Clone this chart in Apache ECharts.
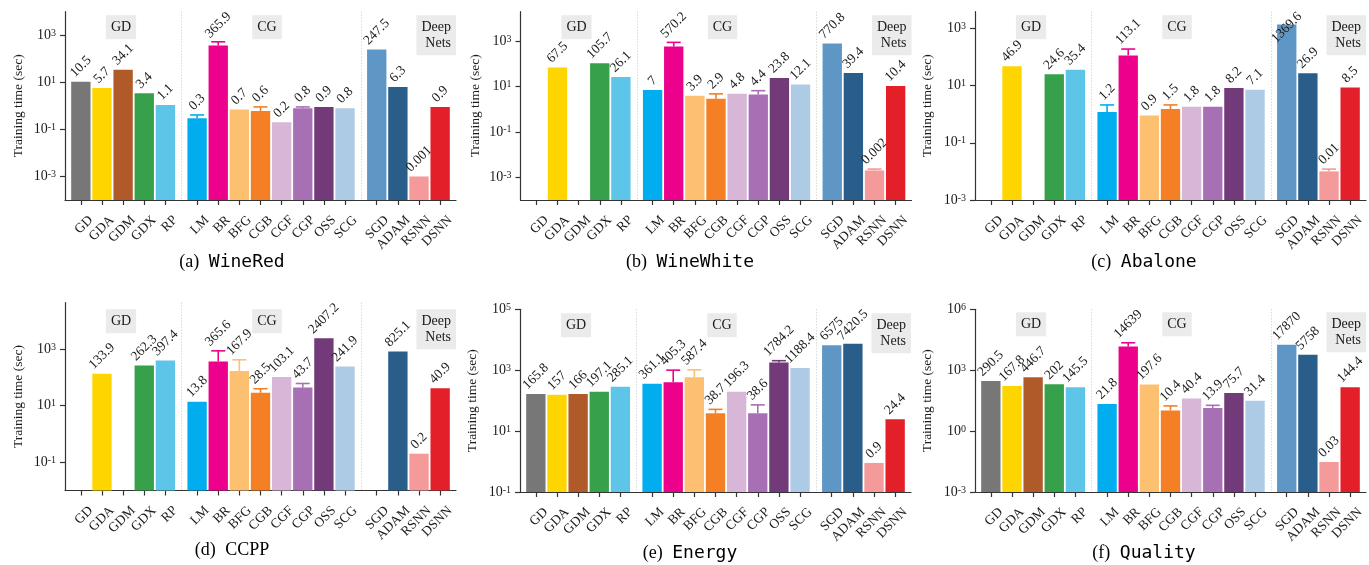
<!DOCTYPE html>
<html><head><meta charset="utf-8">
<script src="https://cdn.jsdelivr.net/npm/echarts@6/dist/echarts.min.js"></script>
<style>html,body{margin:0;padding:0;background:#fff}#c{width:1369px;height:565px}</style>
</head><body><div id="c"></div>
<script>
// ---------------- data ----------------
const categories = ['GD','GDA','GDM','GDX','RP','LM','BR','BFG','CGB','CGF','CGP','OSS','SCG','SGD','ADAM','RSNN','DSNN'];
const categoryGroup = [0,0,0,0,0,1,1,1,1,1,1,1,1,2,2,2,2];
const groupLabels = ['GD','CG','Deep\nNets'];
const panelLetters = ['(a)','(b)','(c)','(d)','(e)','(f)'];
const datasetNames = ['WineRed','WineWhite','Abalone','CCPP','Energy','Quality'];
const yAxisName = 'Training time (sec)';

const wineRedTime   = [10.5,5.7,34.1,3.4,1.1, 0.3,365.9,0.7,0.6,0.2,0.8,0.9,0.8, 247.5,6.3,0.001,0.9];
const wineRedErr    = [0,0,0,0,0, 0.11,160,0,0.3,0,0.1,0,0, 0,0,0,0];
const wineWhiteTime = [null,67.5,null,105.7,26.1, 7,570.2,3.9,2.9,4.8,4.4,23.8,12.1, 770.8,39.4,0.002,10.4];
const wineWhiteErr  = [0,0,0,0,0, 0,300,0,1.8,0,2.1,0,0, 0,0,0.0003,0];
const abaloneTime   = [null,46.9,null,24.6,35.4, 1.2,113.1,0.9,1.5,1.8,1.8,8.2,7.1, 1369.6,26.9,0.01,8.5];
const abaloneErr    = [0,0,0,0,0, 0.9,75,0,0.6,0,0,0,0, 0,0,0.002,0];
const ccppTime      = [null,133.9,null,262.3,397.4, 13.8,365.6,167.9,28.5,103.1,43.7,2407.2,241.9, null,825.1,0.2,40.9];
const ccppErr       = [0,0,0,0,0, 0,500,250,11,0,17,0,0, 0,0,0,0];
const energyTime    = [165.8,157,166,197.1,285.1, 361.1,405.3,587.4,38.7,196.3,38.6,1784.2,1188.4, 6575,7420.5,0.9,24.4];
const energyErr     = [0,0,0,0,0, 0,600,440,13,0,34,270,0, 0,0,0,0];
const qualityTime   = [290.5,167.8,446.7,202,145.5, 21.8,14639,197.6,10.4,40.4,13.9,75.7,31.4, 17870,5758,0.03,144.4];
const qualityErr    = [0,0,0,0,0, 0,7800,0,7,0,4.7,0,0, 0,0,0,0];

const yTicksA = [1e-3,1e-1,1e1,1e3];
const yTicksD = [1e-1,1e1,1e3];
const yTicksE = [1e-1,1e1,1e3,1e5];
const yTicksF = [1e-3,1e0,1e3,1e6];

// ---------------- styles / layout ----------------
const barColors = ['#777777','#FFD500','#B05A2A','#36A04A','#5DC6E8','#00AEEF','#EC008C','#FDBF70',
  '#F47F24','#D8B6D8','#A870B4','#733A7A','#AECBE5','#5E97C6','#295D8A','#F49A9A','#E3202A'];
const SERIF = '"Liberation Serif", "Times New Roman", serif';
const MONO = '"DejaVu Sans Mono", monospace';
const TXT = '#1a1a1a';
const AX = '#333333';

const panels = [
  {time: wineRedTime,   err: wineRedErr,   yMin: 1e-4, yMax: 1e4,     yTicks: yTicksA},
  {time: wineWhiteTime, err: wineWhiteErr, yMin: 1e-4, yMax: 19500,   yTicks: yTicksA},
  {time: abaloneTime,   err: abaloneErr,   yMin: 1e-3, yMax: 3800,    yTicks: yTicksA},
  {time: ccppTime,      err: ccppErr,      yMin: 1e-2, yMax: 43600,   yTicks: yTicksD},
  {time: energyTime,    err: energyErr,    yMin: 1e-1, yMax: 1e5,     yTicks: yTicksE},
  {time: qualityTime,   err: qualityErr,   yMin: 1e-3, yMax: 1e6,     yTicks: yTicksF}
];
const layout = [
  {left: 65,    top: 11.7,  height: 188.3, nameGap: 40, boxDy: 3.5, capX: 232,  capY: 262, capFont: MONO},
  {left: 520.5, top: 11.7,  height: 188.3, nameGap: 38, boxDy: 3.5, capX: 690,  capY: 262, capFont: MONO},
  {left: 975,   top: 11.7,  height: 188.3, nameGap: 41, boxDy: 3.5, capX: 1144, capY: 262, capFont: MONO},
  {left: 65,    top: 302.7, height: 187.8, nameGap: 40, boxDy: 6.5, capX: 232,  capY: 550, capFont: SERIF},
  {left: 520,   top: 309.3, height: 182.7, nameGap: 41, boxDy: 4,   capX: 690,  capY: 553, capFont: MONO},
  {left: 975,   top: 309.3, height: 182.7, nameGap: 41, boxDy: 3,   capX: 1144, capY: 553, capFont: MONO}
];
const GRID_W = 391;
const NSLOTS = 37;            // half-width slots along the x axis
const slotOf = i => 1 + 2 * i + categoryGroup[i];
const slotLabels = [];
for (let s = 0; s < NSLOTS; s++) slotLabels.push('_' + s);
categories.forEach((c, i) => { slotLabels[slotOf(i)] = c; });
const barSlots = new Set(categories.map((c, i) => slotOf(i)));

const mctx = document.createElement('canvas').getContext('2d');
function textWidth(t, size) { mctx.font = size + 'px ' + SERIF; return mctx.measureText(t).width; }

function renderBar(params, api) {
  const slot = api.value(0), v = api.value(1), e = api.value(2), idx = api.value(3);
  const cs = params.coordSys;
  const base = cs.y + cs.height;
  const top = api.coord([slot, v]);
  const bw = api.size([1, 0])[0] * 1.83;
  const color = barColors[idx];
  const children = [{type: 'rect', shape: {x: top[0] - bw / 2, y: top[1], width: bw, height: base - top[1]},
    style: {fill: color}}];
  let yTop = top[1];
  if (e > 0) {
    const eTop = api.coord([slot, v + e])[1];
    children.push({type: 'line', shape: {x1: top[0], y1: top[1], x2: top[0], y2: eTop}, style: {stroke: color, lineWidth: 1.6}});
    children.push({type: 'line', shape: {x1: top[0] - 7, y1: eTop, x2: top[0] + 7, y2: eTop}, style: {stroke: color, lineWidth: 1.6}});
    yTop = eTop;
  }
  const label = String(v);
  const fs = 13.5, c = Math.SQRT1_2;
  const w = textWidth(label, fs), h = fs;
  let bottom = yTop - 2;
  const bboxH = (w + h) * c;
  if (bottom - bboxH < cs.y - 2) bottom = cs.y - 2 + bboxH;
  children.push({type: 'text', x: top[0] - w * c / 2, y: bottom - h / 2 * c, rotation: Math.PI / 4,
    style: {text: label, font: fs + 'px ' + SERIF, fill: TXT, align: 'left', verticalAlign: 'middle'}});
  return {type: 'group', children};
}

function makeDecor(k) {
  return function (params, api) {
    const cs = params.coordSys, L = layout[k];
    const base = cs.y + cs.height;
    const children = [];
    // dotted separators between groups
    for (let i = 1; i < categories.length; i++) {
      if (categoryGroup[i] !== categoryGroup[i - 1]) {
        const x1 = api.coord([slotOf(i - 1), panels[k].yMin])[0];
        const x2 = api.coord([slotOf(i), panels[k].yMin])[0];
        const xm = Math.round((x1 + x2) / 2) + 0.5;
        children.push({type: 'line', shape: {x1: xm, y1: cs.y, x2: xm, y2: base},
          style: {stroke: '#c8c8c8', lineWidth: 1, lineDash: [1, 2]}});
      }
    }
    // group label boxes
    const boxStyle = {font: '14px ' + SERIF, fill: TXT, backgroundColor: '#ebebeb', verticalAlign: 'top', lineHeight: 16};
    children.push({type: 'text', x: cs.x + 56, y: cs.y + L.boxDy,
      style: Object.assign({text: groupLabels[0], align: 'center', padding: [4, 5, 4, 5]}, boxStyle)});
    children.push({type: 'text', x: cs.x + 202, y: cs.y + L.boxDy,
      style: Object.assign({text: groupLabels[1], align: 'center', padding: [4, 5, 4, 5]}, boxStyle)});
    children.push({type: 'text', x: cs.x + cs.width, y: cs.y + L.boxDy,
      style: Object.assign({text: groupLabels[2], align: 'right', padding: [4, 5, 4, 5]}, boxStyle)});
    // rotated category labels
    categories.forEach((name, i) => {
      const p = api.coord([slotOf(i), panels[k].yMin]);
      children.push({type: 'text', x: p[0] + 10, y: base + 18, rotation: Math.PI / 4,
        style: {text: name, font: '13.5px ' + SERIF, fill: TXT, align: 'right', verticalAlign: 'middle'}});
    });
    return {type: 'group', children};
  };
}

const grid = [], xAxis = [], yAxis = [], series = [], graphic = [];
panels.forEach((P, k) => {
  const L = layout[k];
  grid.push({left: L.left, top: L.top, width: GRID_W, height: L.height, containLabel: false, outerBoundsMode: 'none'});
  xAxis.push({type: 'category', gridIndex: k, data: slotLabels, boundaryGap: true,
    axisLine: {show: true, lineStyle: {color: AX, width: 1.2}},
    axisTick: {show: true, alignWithLabel: true, interval: (i) => barSlots.has(i), length: 5, lineStyle: {color: AX, width: 1.2}},
    axisLabel: {show: false}, splitLine: {show: false}});
  yAxis.push({type: 'log', logBase: 10, gridIndex: k, min: P.yMin, max: P.yMax,
    axisLine: {show: true, lineStyle: {color: AX, width: 1.2}},
    axisTick: {show: true, customValues: P.yTicks, length: 5, lineStyle: {color: AX, width: 1.2}},
    axisLabel: {show: true, customValues: P.yTicks, margin: 9,
      formatter: v => '{b|10}{s|' + Math.round(Math.log10(v)) + '}',
      rich: {b: {fontSize: 14, fontFamily: SERIF, color: TXT}, s: {fontSize: 10, fontFamily: SERIF, color: TXT, verticalAlign: 'top'}}},
    splitLine: {show: false}, minorTick: {show: false},
    name: yAxisName, nameLocation: 'middle', nameGap: L.nameGap,
    nameTextStyle: {fontSize: 13.5, fontFamily: SERIF, color: TXT}});
  const data = [];
  categories.forEach((c, i) => { if (P.time[i] != null) data.push([slotOf(i), P.time[i], P.err[i], i]); });
  series.push({type: 'custom', xAxisIndex: k, yAxisIndex: k, data, renderItem: renderBar, encode: {x: 0, y: 1}, clip: false, z: 3});
  series.push({type: 'custom', xAxisIndex: k, yAxisIndex: k, data: [[0, P.yMin]], renderItem: makeDecor(k), encode: {x: 0, y: 1}, clip: false, z: 2, silent: true});
  graphic.push({type: 'text', x: L.capX, y: L.capY,
    style: {text: '{s|' + panelLetters[k] + ' }{m|' + datasetNames[k] + '}',
      rich: {s: {fontSize: 18, fontFamily: SERIF, color: TXT}, m: {fontSize: 18, fontFamily: L.capFont, color: TXT, padding: [0, 0, 0, 5]}},
      align: 'center', verticalAlign: 'middle'}});
});

const chart = echarts.init(document.getElementById('c'), null, {renderer: 'canvas'});
chart.setOption({animation: false, backgroundColor: '#ffffff', grid, xAxis, yAxis, series, graphic});
</script>
</body></html>
